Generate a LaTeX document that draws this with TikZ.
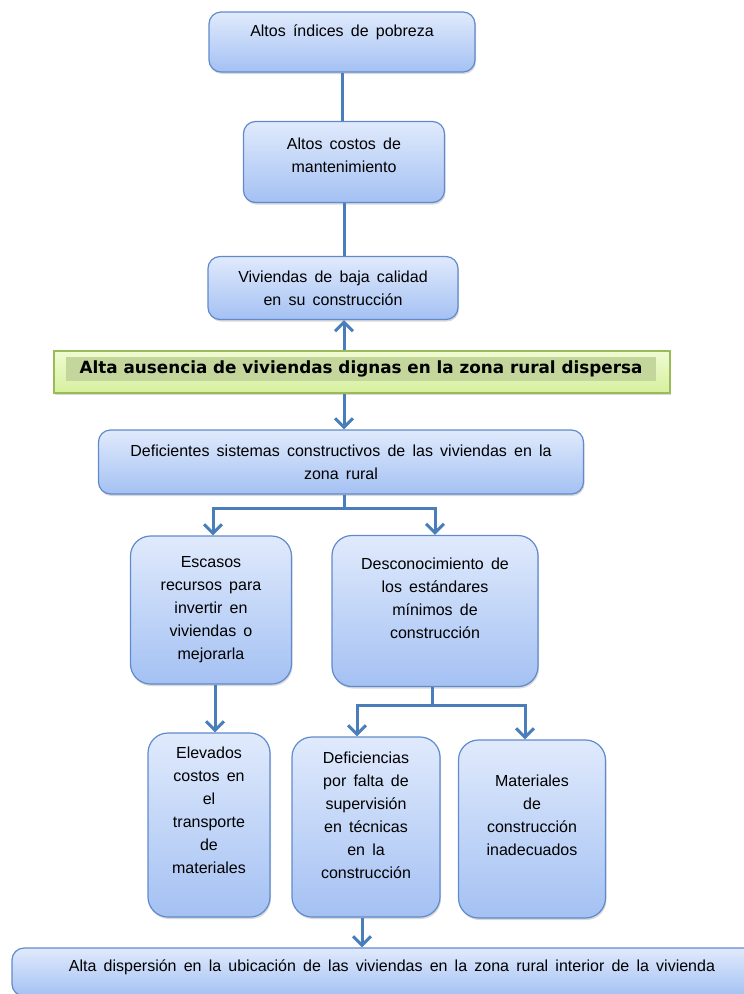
\documentclass[tikz,border=0pt]{standalone}
\usepackage{fontspec}
\setmainfont{Liberation Sans}
\newfontfamily\bannerfont{DejaVu Sans}
\usetikzlibrary{arrows.meta, shadows}

\definecolor{lineablue}{RGB}{74,126,187}
\definecolor{bordeblue}{RGB}{96,138,204}
\definecolor{topblue}{RGB}{224,234,252}
\definecolor{botblue}{RGB}{164,193,243}
\definecolor{bordegreen}{RGB}{155,187,89}
\definecolor{topgreen}{RGB}{240,251,210}
\definecolor{botgreen}{RGB}{214,240,158}
\definecolor{resaltegreen}{RGB}{196,214,155}

\newcommand\letracaja{\fontsize{16}{23}\selectfont\spaceskip=0.45em plus 1pt\relax}

\begin{document}
\begin{tikzpicture}[x=1pt, y=-1pt, >={Straight Barb[length=9pt,width=18pt]},
    caja/.style={draw=bordeblue, line width=1.2pt, rounded corners=12pt, top color=topblue, bottom color=botblue,
        drop shadow={shadow xshift=1pt, shadow yshift=-2pt, opacity=.3}, align=center,
        font=\letracaja, inner sep=0pt},
    marco/.style={draw=bordegreen, line width=1.5pt, top color=topgreen, bottom color=botgreen,
        drop shadow={shadow xshift=1pt, shadow yshift=-2pt, opacity=.3}, inner sep=0pt},
    resalte/.style={fill=resaltegreen, inner sep=0pt, font=\bannerfont\bfseries\fontsize{16.8}{18}\selectfont},
    flecha/.style={draw=lineablue, line width=3pt}]
    \useasboundingbox (0,0) rectangle (744,994);

    % Define effects
    \node[caja, text depth=22pt, minimum width=266, minimum height=60] (e1) at (342, 42) {Altos índices de pobreza};
    \node[caja, text depth=14pt, minimum width=201, minimum height=81] (e2) at (344, 162) {Altos costos de\\mantenimiento};
    \node[caja, minimum width=250, minimum height=63] (e3) at (333, 288) {Viviendas de baja calidad\\en su construcción};

    % Define problem
    \node[marco, minimum width=616, minimum height=42] (marco) at (362, 372) {};
    \node[resalte, minimum width=590, minimum height=24] (prob) at (361, 369) {Alta ausencia de viviendas dignas en la zona rural dispersa};

    % Define causes
    \node[caja, minimum width=485, minimum height=64] (c1) at (341, 462) {Deficientes sistemas constructivos de las viviendas en la\\zona rural};
    \node[caja, rounded corners=20pt, minimum width=161, minimum height=148] (c2) at (211, 610) {Escasos\\recursos para\\invertir en\\viviendas o\\mejorarla};
    \node[caja, text depth=26pt, rounded corners=20pt, minimum width=206, minimum height=151] (c3) at (435, 611) {Desconocimiento de\\los estándares\\mínimos de\\construcción};
    \node[caja, text depth=30pt, rounded corners=20pt, minimum width=122, minimum height=184] (c4) at (209, 825) {Elevados\\costos en\\el\\transporte\\de\\materiales};
    \node[caja, text depth=24pt, rounded corners=20pt, minimum width=148, minimum height=180] (c5) at (366, 827) {Deficiencias\\por falta de\\supervisión\\en técnicas\\en la\\construcción};
    \node[caja, text depth=28pt, rounded corners=20pt, minimum width=147, minimum height=178] (c6) at (532, 829) {Materiales\\de\\construcción\\inadecuados};
    \node[caja, text depth=12pt, minimum width=760, minimum height=48] (c7) at (392, 972) {Alta dispersión en la ubicación de las viviendas en la zona rural interior de la vivienda};

    % Draw connectors
    \draw[flecha] (e1.south) -- (e1.south |- e2.north); % pobreza - costos
    \draw[flecha] (e2.south) -- (e2.south |- e3.north); % costos - viviendas
    \draw[flecha, ->] (marco.north -| e2.south) -- (e3.south -| e2.south); % problema -> viviendas
    \draw[flecha, ->] (marco.south -| e2.south) -- (c1.north -| e2.south); % problema -> deficientes
    \draw[flecha, ->] (c1.south -| e2.south) -- ++(0,14) -| ([xshift=2pt]c2.north); % deficientes -> escasos
    \draw[flecha, ->] (c1.south -| e2.south) -- ++(0,14) -| (c3.north); % deficientes -> desconocimiento
    \draw[flecha, ->] ([xshift=4pt]c2.south) -- ([xshift=4pt]c2.south |- c4.north); % escasos -> elevados
    \draw[flecha, ->] ([xshift=-3pt]c3.south) -- ++(0,18) -| ([xshift=-9pt]c5.north); % desconocimiento -> deficiencias
    \draw[flecha, ->] ([xshift=-3pt]c3.south) -- ++(0,18) -| ([xshift=-7pt]c6.north); % desconocimiento -> materiales
    \draw[flecha, ->] ([xshift=-4pt]c5.south) -- ([xshift=-4pt]c5.south |- c7.north); % deficiencias -> dispersion
\end{tikzpicture}
\end{document}
